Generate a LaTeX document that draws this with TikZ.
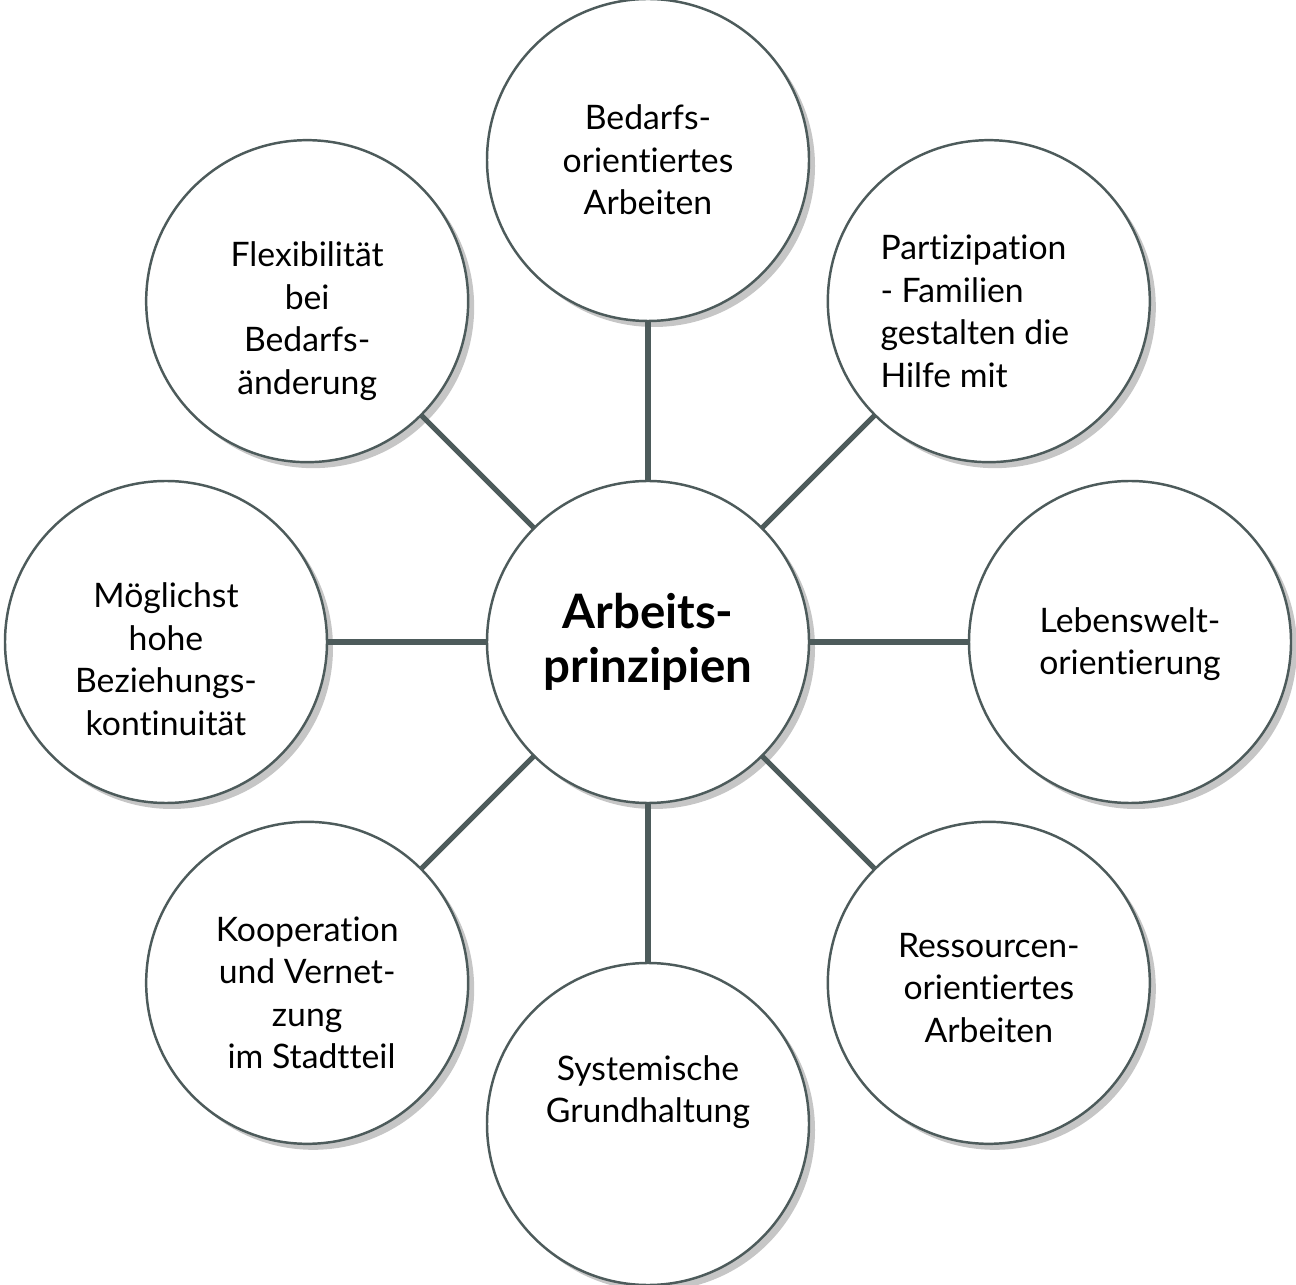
\documentclass[tikz,border=0pt]{standalone}
\usepackage{fontspec}
\setmainfont{Lato}[Ligatures={NoCommon}]
\usetikzlibrary{shadows,calc}
\definecolor{linegray}{RGB}{77,91,91}

\begin{document}
\begin{tikzpicture}[every node/.style={outer sep=0pt}]
      \tikzstyle{bubble}=[circle,draw=linegray,line width=0.7pt,fill=white,minimum size=3.22cm,
        drop shadow={shadow xshift=0.06cm,shadow yshift=-0.06cm,fill=gray!45,opacity=1}]
      \tikzstyle{txt}=[align=center,font=\fontsize{9.6}{12.1}\selectfont]
      \tikzstyle{spoke}=[draw=linegray,line width=1.5pt]
      \useasboundingbox (0,0) rectangle (12.96,12.84);

      \coordinate (C) at (6.48,6.42);
      \node (main) at (C) [bubble] {};
      \node (bed) at ($(C)+(90:4.82)$) [bubble] {};
      \node (par) at ($(C)+(45:4.82)$) [bubble] {};
      \node (leb) at ($(C)+(0:4.82)$) [bubble] {};
      \node (res) at ($(C)+(-45:4.82)$) [bubble] {};
      \node (sys) at ($(C)+(-90:4.82)$) [bubble] {};
      \node (koo) at ($(C)+(-135:4.82)$) [bubble] {};
      \node (moe) at ($(C)+(180:4.82)$) [bubble] {};
      \node (fle) at ($(C)+(135:4.82)$) [bubble] {};

      % spokes from the centre circle
      \begin{scope}[on background layer/.try]
      \foreach \n in {bed,par,leb,res,sys,koo,moe,fle}
        \draw [spoke] (main) -- (\n);
      \end{scope}

      \node (main-t) at (main) [txt,font=\fontsize{13.5}{15.2}\selectfont\bfseries] {Arbeits-\\prinzipien};
      \node (bed-t) at (bed) [txt] {Bedarfs-\\orientiertes\\Arbeiten};
      \node (par-t) at ([xshift=-0.14cm,yshift=-0.1cm]par) [txt,align=left] {Partizipation\\- Familien\\gestalten die\\Hilfe mit};
      \node (leb-t) at ([yshift=-0.02cm]leb) [txt] {Lebenswelt-\\orientierung};
      \node (res-t) at ([yshift=-0.05cm]res) [txt] {Ressourcen-\\orientiertes\\Arbeiten};
      \node (sys-t) at ([yshift=0.32cm]sys) [txt] {Systemische\\Grundhaltung};
      \node (koo-t) at ([yshift=-0.1cm]koo) [txt] {Kooperation\\und Vernet-\\zung\\\ im Stadtteil};
      \node (moe-t) at ([yshift=-0.17cm]moe) [txt] {Möglichst\\hohe\\Beziehungs-\\kontinuität};
      \node (fle-t) at ([yshift=-0.2cm]fle) [txt] {Flexibilität\\bei\\Bedarfs-\\änderung};
    \end{tikzpicture}
\end{document}
